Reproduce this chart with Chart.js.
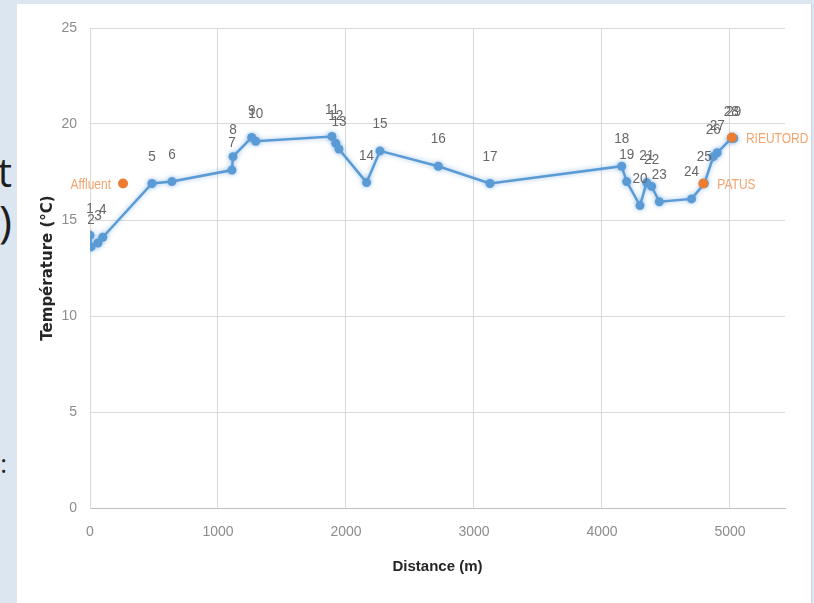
<!DOCTYPE html>
<html>
<head>
<meta charset="utf-8">
<script src="https://cdn.jsdelivr.net/npm/chart.js@4"></script>
<style>
  html, body { margin:0; padding:0; }
  body { width:814px; height:603px; background:#dce6f1; position:relative; overflow:hidden; }
  .card { position:absolute; left:17px; top:4px; width:794px; height:599px; background:#fff; border-right:1px solid #d4d4d4; }
  .slide-text { position:absolute; left:-100px; width:112px; text-align:right; font-family:'Open Sans', sans-serif; color:#1e1e1e; line-height:1; }
  #wrap { position:absolute; left:0; top:0; width:814px; height:603px; }
</style>
</head>
<body>
<div class="slide-text" style="top:152px;font-size:40px;">t</div>
<div class="slide-text" style="top:198px;font-size:44px;">)</div>
<div class="slide-text" style="top:450px;font-size:26px;left:-105px;">:</div>
<div class="card"></div>
<div id="wrap"><canvas id="tempChart"></canvas></div>
<script>
// ─── DATA ─────────────────────────────────────────────────────
const stationLabels = ['1','2','3','4','5','6','7','8','9','10','11','12','13','14','15',
  '16','17','18','19','20','21','22','23','24','25','26','27','28','29'];
const distances = [0, 8, 62, 100, 484, 640, 1109, 1117, 1263, 1295, 1890, 1920, 1945, 2161, 2266,
  2721, 3125, 4154, 4193, 4297, 4349, 4388, 4448, 4700, 4800, 4870, 4900, 5010, 5030];
const temperatures = [14.2, 13.6, 13.8, 14.1, 16.9, 17.0, 17.6, 18.3, 19.3, 19.1, 19.35, 19.0, 18.7, 16.95, 18.6,
  17.8, 16.9, 17.8, 17.0, 15.75, 16.95, 16.75, 15.95, 16.1, 16.9, 18.3, 18.5, 19.25, 19.25];

const sourceNames = ['Affluent', 'PATUS', 'RIEUTORD'];
const sourceDistances = [258, 4792, 5015];
const sourceTemperatures = [16.9, 16.9, 19.3];

const xTicks = [0, 1000, 2000, 3000, 4000, 5000];
const yTicks = [0, 5, 10, 15, 20, 25];

const BLUE = '#5b9bd5';
const ORANGE = '#ed7d31';

// ─── PLUGINS ──────────────────────────────────────────────────
// soft halo around the blue line, like the picture
const glowPlugin = {
  id: 'glow',
  beforeDatasetDraw(chart, args) {
    if (args.index !== 0) return;
    const ctx = chart.ctx;
    ctx.save();
    ctx.shadowColor = 'rgba(91,155,213,0.6)';
    ctx.shadowBlur = 5;
  },
  afterDatasetDraw(chart, args) {
    if (args.index === 0) chart.ctx.restore();
  }
};

// narrow text: squeeze horizontally around the anchor
function narrowText(ctx, text, x, y, squeeze) {
  ctx.save();
  ctx.translate(x, y);
  ctx.scale(squeeze, 1);
  ctx.fillText(text, 0, 0);
  ctx.restore();
}

// station numbers above points, source names beside the orange points
const labelPlugin = {
  id: 'pointLabels',
  afterDatasetsDraw(chart) {
    const ctx = chart.ctx;
    ctx.save();
    ctx.textBaseline = 'middle';
    ctx.font = '15px "Liberation Sans", Arial, sans-serif';
    ctx.fillStyle = '#666666';
    ctx.textAlign = 'center';
    chart.getDatasetMeta(0).data.forEach((pt, i) => {
      narrowText(ctx, stationLabels[i], pt.x, pt.y - 27, 0.9);
    });
    ctx.font = '15px "Liberation Sans", Arial, sans-serif';
    ctx.fillStyle = '#f2a46e';
    chart.getDatasetMeta(1).data.forEach((pt, i) => {
      const before = i === 0;
      ctx.textAlign = before ? 'right' : 'left';
      narrowText(ctx, sourceNames[i], pt.x + (before ? -12 : 14), pt.y + 1, 0.8);
    });
    ctx.restore();
  }
};

// ─── CHART ────────────────────────────────────────────────────
const tickFont = { family: '"Liberation Sans", Arial, sans-serif', size: 14 };

new Chart(document.getElementById('tempChart'), {
  type: 'scatter',
  data: {
    datasets: [
      {
        label: 'Température',
        data: distances.map((d, i) => ({ x: d, y: temperatures[i] })),
        showLine: true,
        borderColor: BLUE, borderWidth: 2.5,
        backgroundColor: BLUE, pointBorderColor: BLUE,
        pointRadius: 4.5, pointBorderWidth: 0,
        order: 1
      },
      {
        label: 'Sources',
        data: sourceDistances.map((d, i) => ({ x: d, y: sourceTemperatures[i] })),
        showLine: false,
        backgroundColor: ORANGE, borderColor: ORANGE,
        pointRadius: 5, pointBorderWidth: 0,
        order: 0
      }
    ]
  },
  options: {
    responsive: true, maintainAspectRatio: false, animation: false,
    layout: { padding: { left: 35, top: 28, right: 29, bottom: 23 } },
    plugins: { legend: { display: false }, tooltip: { enabled: false } },
    scales: {
      x: {
        type: 'linear', min: 0, max: 5430,
        afterBuildTicks: s => { s.ticks = xTicks.map(v => ({ value: v })); },
        afterFit: s => { s.height = 72; },
        grid: { color: '#d9d9d9', drawTicks: false },
        border: { color: '#bfbfbf' },
        ticks: { font: tickFont, color: '#8c8c8c', padding: 16, maxRotation: 0, callback: v => String(v) },
        title: { display: true, text: 'Distance (m)', color: '#262626',
          font: { family: '"Liberation Sans", Arial, sans-serif', size: 15, weight: 'bold' } }
      },
      y: {
        min: 0, max: 25,
        afterBuildTicks: s => { s.ticks = yTicks.map(v => ({ value: v })); },
        afterFit: s => { s.width = 55; },
        grid: { color: '#d9d9d9', drawTicks: false },
        border: { color: '#d9d9d9' },
        ticks: { font: tickFont, color: '#8c8c8c', padding: 13, callback: v => String(v) },
        title: { display: true, text: 'Température (°C)', color: '#262626',
          font: { family: '"DejaVu Sans", sans-serif', size: 15, weight: 'bold' } }
      }
    }
  },
  plugins: [glowPlugin, labelPlugin]
});
</script>
</body>
</html>
